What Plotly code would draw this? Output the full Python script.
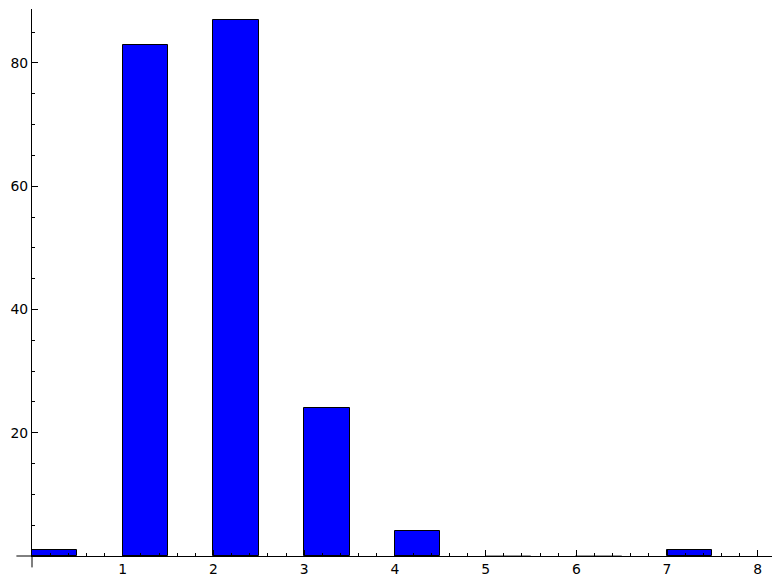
import plotly.graph_objects as go

# data
bin_starts = [0, 1, 2, 3, 4, 5, 6, 7]
counts = [1, 83, 87, 24, 4, 0, 0, 1]
x_tick_vals = [1, 2, 3, 4, 5, 6, 7, 8]
y_tick_vals = [20, 40, 60, 80]

x_max = 8.157
y_max = 88.76
x_stub = 0.172   # axis extension left of x=0 (data units)
y_stub = 1.85    # axis extension below y=0 (data units)

edge_colors = ["black" if c > 0 else "#999999" for c in counts]

fig = go.Figure(go.Bar(
    x=bin_starts, y=counts, width=0.5, offset=0,
    marker=dict(color="#0000ff", line=dict(color=edge_colors, width=1)),
    hoverinfo="skip",
))

font = dict(family="DejaVu Sans", size=13.9, color="black")

# page body has an 8px default margin, so the figure is sized to fit inside
fig.update_layout(
    width=773, height=574,
    margin=dict(l=24.3, r=9.3, t=1, b=25.7, pad=0),
    paper_bgcolor="white", plot_bgcolor="white",
    showlegend=False, bargap=0,
    font=font,
    xaxis=dict(
        range=[0, x_max], showgrid=False, zeroline=False, automargin=False,
        showline=True, linecolor="black", linewidth=1,
        tickmode="array", tickvals=x_tick_vals,
        ticks="inside", ticklen=6, tickwidth=1, tickcolor="black",
        minor=dict(ticks="inside", ticklen=3, tickwidth=1, tickcolor="black",
                   dtick=0.2, tick0=0, showgrid=False),
        tickfont=font, fixedrange=True,
    ),
    yaxis=dict(
        range=[0, y_max], showgrid=False, zeroline=False, automargin=False,
        showline=True, linecolor="black", linewidth=1,
        tickmode="array", tickvals=y_tick_vals,
        ticks="inside", ticklen=6, tickwidth=1, tickcolor="black",
        minor=dict(ticks="inside", ticklen=3, tickwidth=1, tickcolor="black",
                   dtick=5, tick0=0, showgrid=False),
        tickfont=font, fixedrange=True,
    ),
    shapes=[
        dict(type="line", xref="paper", yref="paper",
             x0=-x_stub / x_max, x1=0, y0=0, y1=0,
             line=dict(color="black", width=1)),
        dict(type="line", xref="paper", yref="paper",
             x0=0, x1=0, y0=-y_stub / y_max, y1=0,
             line=dict(color="black", width=1)),
    ],
)

fig.write_html("out.html", config={"displayModeBar": False})
